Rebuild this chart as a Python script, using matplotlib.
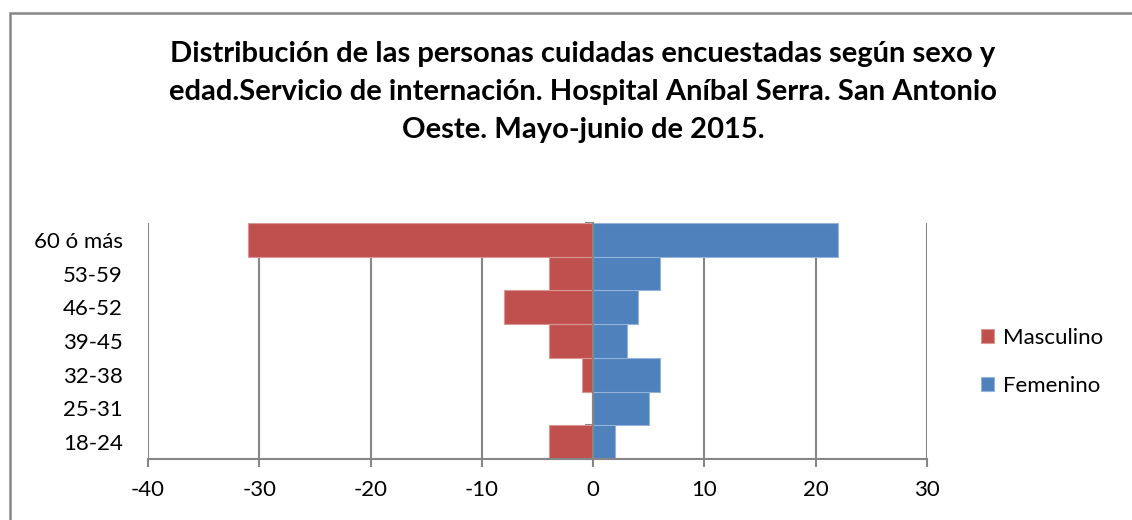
import matplotlib.pyplot as plt
import numpy as np
from matplotlib.patches import Rectangle

# Datos (de abajo hacia arriba)
edades = ["18-24", "25-31", "32-38", "39-45", "46-52", "53-59", "60 ó más"]
masculino = [-4, 0, -1, -4, -8, -4, -31]
femenino = [2, 5, 6, 3, 4, 6, 22]

rojo = "#C0504D"
azul = "#4F81BD"
gris = "#868686"

plt.rcParams['font.family'] = ['Lato', 'DejaVu Sans']
plt.rcParams['axes.unicode_minus'] = False

fig = plt.figure(figsize=(11.32, 5.2), dpi=100)
ax = fig.add_axes([148 / 1132, 61 / 520, 779 / 1132, 236 / 520])

y = np.arange(len(edades))
ax.barh(y, masculino, height=1.0, color=rojo, edgecolor="#D99694", linewidth=0.8, label="Masculino", zorder=2)
ax.barh(y, femenino, height=1.0, color=azul, edgecolor="#95B3D7", linewidth=0.8, label="Femenino", zorder=2)

ax.set_xlim(-40, 30)
ax.set_ylim(-0.5, len(edades) - 0.5)
ax.set_xticks(np.arange(-40, 31, 10))
ax.tick_params(axis='x', labelsize=16, length=6, width=1.5, color=gris, pad=9)
ax.grid(axis='x', color=gris, linewidth=1.5, zorder=0)

for s in ['top', 'right']:
    ax.spines[s].set_visible(False)
ax.spines['bottom'].set_color(gris)
ax.spines['bottom'].set_linewidth(1.5)

# eje vertical en cero con marcas entre categorías
ax.spines['left'].set_position(('data', 0))
ax.spines['left'].set_color(gris)
ax.spines['left'].set_linewidth(1.5)
ax.spines['left'].set_zorder(3)
ax.set_yticks(np.arange(len(edades) + 1) - 0.5)
ax.set_yticklabels([])
ax.tick_params(axis='y', length=6, width=1.5, color=gris)

# etiquetas de edad a la izquierda
sec = ax.secondary_yaxis('left')
sec.set_yticks(y)
sec.set_yticklabels(edades)
sec.tick_params(length=0, labelsize=16, pad=18)
sec.spines['left'].set_visible(False)

fig.legend(loc='center left', bbox_to_anchor=(961 / 1132, 1 - 362 / 520), frameon=False,
           fontsize=16, handlelength=0.6, handleheight=0.6, handletextpad=0.4, labelspacing=1.25)

fig.text(583 / 1132, 1 - 92 / 520,
         "Distribución de las personas cuidadas encuestadas según sexo y\n"
         "edad.Servicio de internación. Hospital Aníbal Serra. San Antonio\n"
         "Oeste. Mayo-junio de 2015.",
         ha='center', va='center', fontsize=21, fontweight='bold', linespacing=1.55)

# marco del gráfico
fig.patches.append(Rectangle((10 / 1132, -0.1), 1.2, 1 - 13 / 520 + 0.1, transform=fig.transFigure,
                             fill=False, edgecolor=gris, linewidth=1.8))

fig.savefig("out.png", dpi=100)
